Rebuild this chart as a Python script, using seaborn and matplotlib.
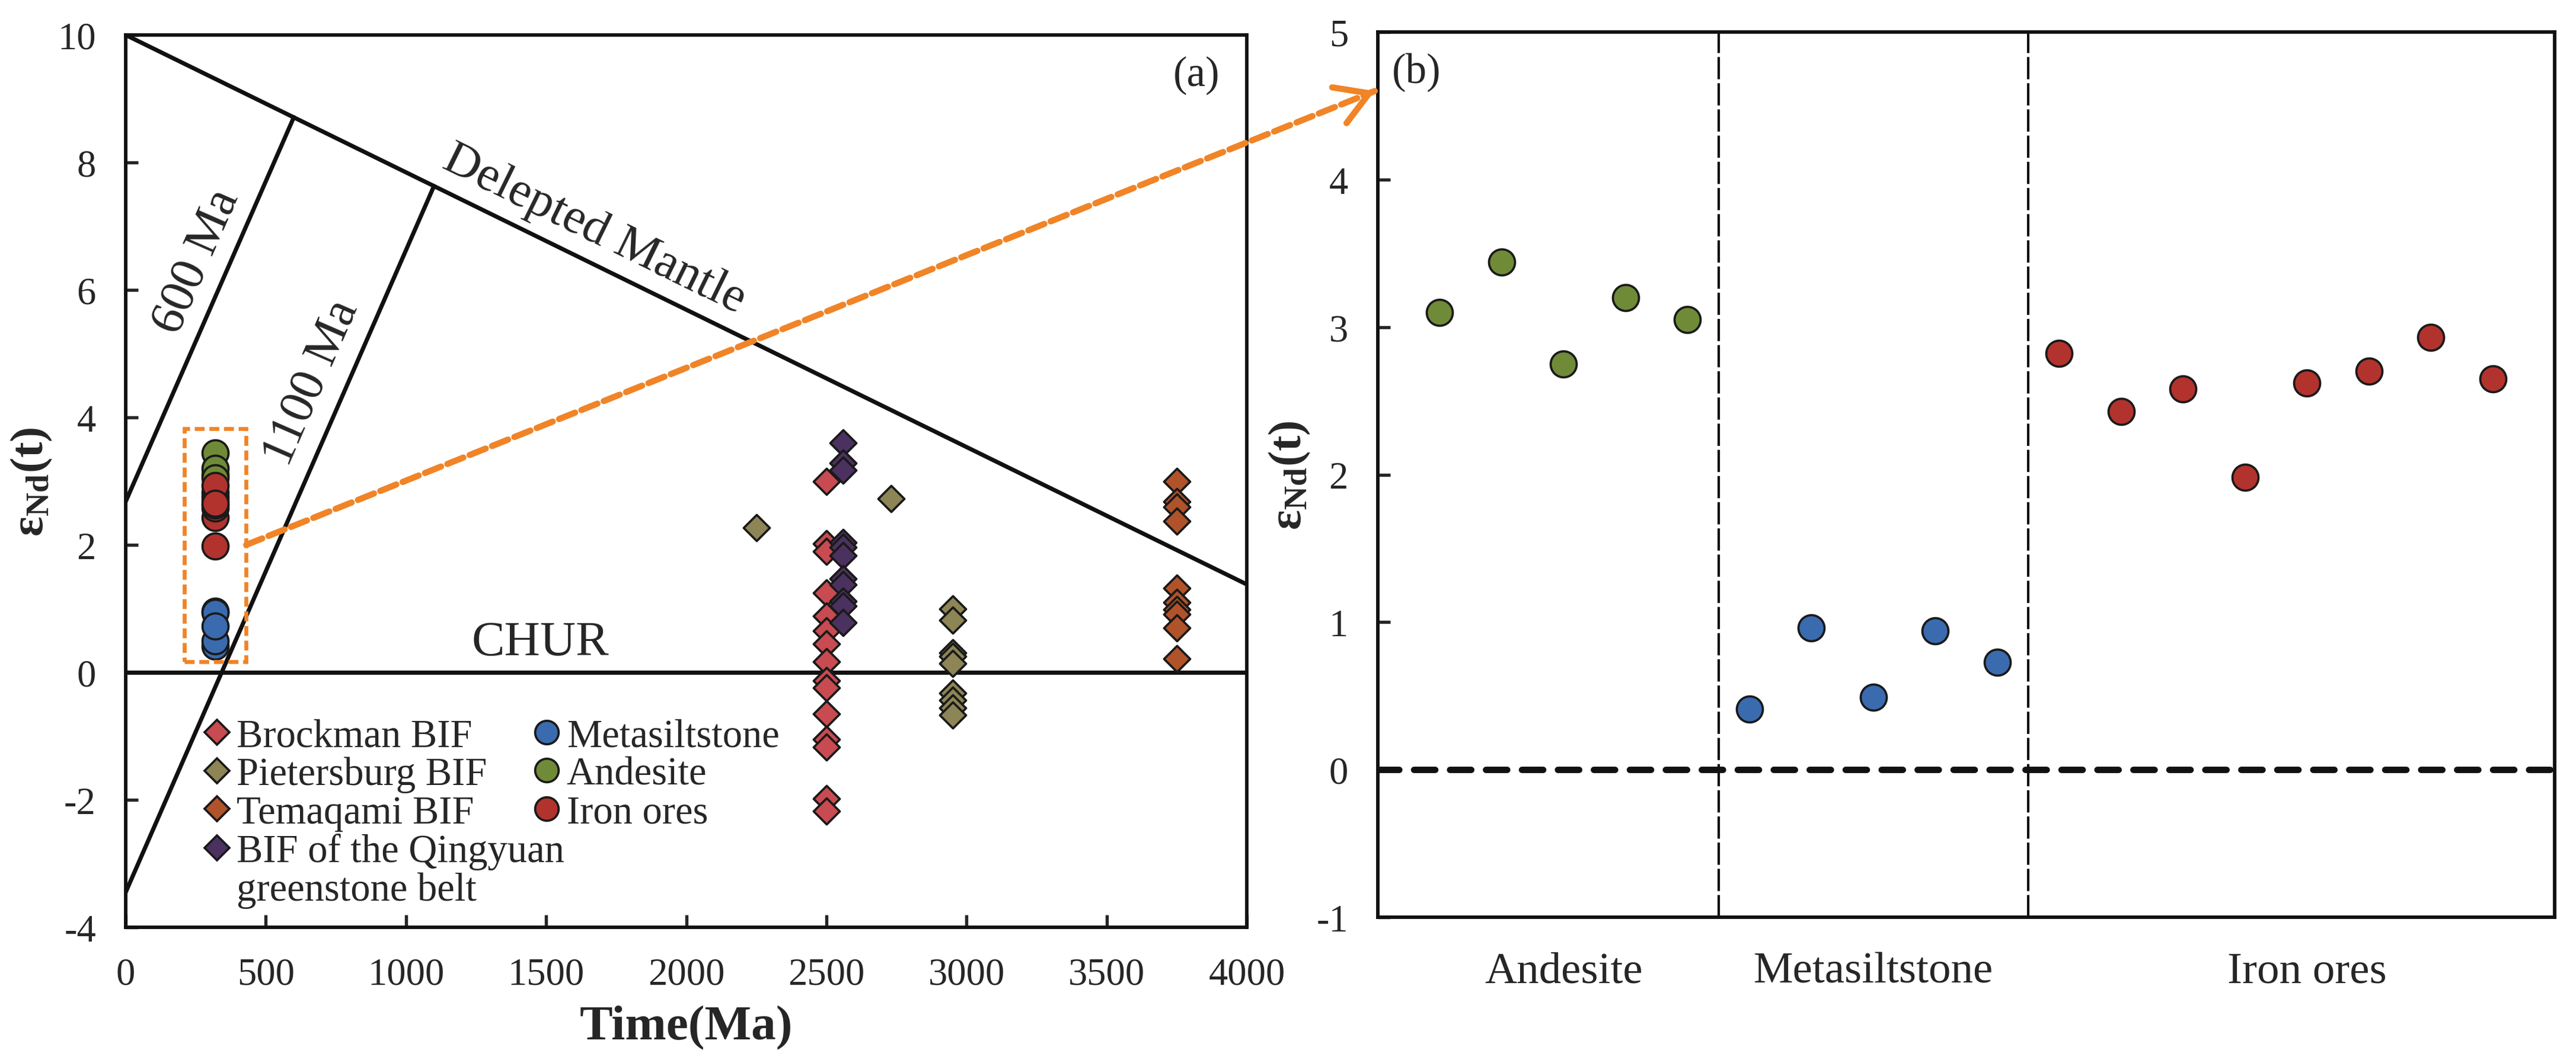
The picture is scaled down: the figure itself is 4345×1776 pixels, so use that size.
import numpy as np
import matplotlib
matplotlib.use('Agg')
import matplotlib.pyplot as plt
from matplotlib.lines import Line2D
from matplotlib.patches import Rectangle, ConnectionPatch
import seaborn as sns

# ---- panel (a): eNd(t) of BIFs vs age ----
brockman_age = [2500] * 15
brockman_eps = [3.0, 2.02, 1.9, 1.25, 0.88, 0.65, 0.45, 0.17, -0.13, -0.24,
                -0.65, -1.05, -1.17, -1.98, -2.18]
pietersburg_age = [2250, 2730, 2950, 2950, 2950, 2950, 2950, 2950, 2950, 2950, 2950]
pietersburg_eps = [2.27, 2.73, 1.0, 0.82, 0.31, 0.25, 0.14, -0.33, -0.44, -0.56, -0.67]
temagami_age = [3750] * 10
temagami_eps = [3.0, 2.68, 2.6, 2.37, 1.32, 1.1, 0.99, 0.91, 0.7, 0.21]
qingyuan_age = [2560] * 11
qingyuan_eps = [3.6, 3.28, 3.17, 2.04, 1.96, 1.83, 1.47, 1.38, 1.12, 1.04, 0.78]

# samples of this study (t = 320 Ma)
sample_age = 320
andesite_eps = [3.10, 3.44, 2.75, 3.20, 3.05]
metasilt_eps = [0.41, 0.96, 0.49, 0.94, 0.73]
iron_eps = [2.82, 2.43, 2.58, 1.98, 2.62, 2.70, 2.93, 2.65]

# evolution lines
dm_age, dm_eps = [0, 4000], [10.0, 1.38]
t600_age, t600_eps = [0, 600], [2.68, 8.71]
t1100_age, t1100_eps = [0, 1100], [-3.45, 7.63]
box_age, box_eps = [210, 430], [0.17, 3.82]

# ---- panel (b) ----
categories = ['Andesite', 'Metasiltstone', 'Iron ores']
cat_label_pos = [3, 8, 15]

C_BROCK = '#C84B51'
C_PIET = '#8D8555'
C_TEMA = '#B0532A'
C_QING = '#4B3160'
C_META = '#3A6BAF'
C_ANDE = '#6F8B37'
C_IRON = '#B2332D'
ORANGE = '#F08427'
EDGE = '#1a1a1a'

sns.set_style('ticks')
plt.rcParams['font.family'] = ['Liberation Serif', 'DejaVu Serif']
plt.rcParams['mathtext.fontset'] = 'custom'
plt.rcParams['mathtext.rm'] = 'Liberation Serif'
plt.rcParams['mathtext.bf'] = 'Liberation Serif:bold'
plt.rcParams['mathtext.it'] = 'Liberation Serif:italic'
plt.rcParams['axes.unicode_minus'] = False

W, H = 4345, 1777
fig = plt.figure(figsize=(W / 300, H / 300), dpi=300)
ax1 = fig.add_axes([212 / W, 1 - 1565 / H, 1891 / W, 1505 / H])
ax2 = fig.add_axes([2324 / W, 1 - 1548 / H, 1985 / W, 1493 / H])

for ax in (ax1, ax2):
    for sp in ax.spines.values():
        sp.set_linewidth(1.4)
        sp.set_color('#111111')
        sp.set_visible(True)

# ---------------- panel (a) ----------------
ax1.set_xlim(0, 4000)
ax1.set_ylim(-4, 10)
ax1.set_xticks(np.arange(0, 4001, 500))
ax1.set_yticks(np.arange(-4, 11, 2))
ax1.tick_params(direction='in', length=5, width=1.3, labelsize=15.5, pad=12,
                top=False, right=False)

line_kw = dict(color='#111111', lw=1.7, zorder=2)
ax1.plot(dm_age, dm_eps, **line_kw)
ax1.plot(t600_age, t600_eps, **line_kw)
ax1.plot(t1100_age, t1100_eps, **line_kw)
ax1.axhline(0, **line_kw)

diamond_kw = dict(marker='D', s=56, edgecolor=EDGE, linewidth=0.9, zorder=3, legend=False)
sns.scatterplot(x=brockman_age, y=brockman_eps, color=C_BROCK, ax=ax1, **diamond_kw)
sns.scatterplot(x=qingyuan_age, y=qingyuan_eps, color=C_QING, ax=ax1, **diamond_kw)
sns.scatterplot(x=pietersburg_age, y=pietersburg_eps, color=C_PIET, ax=ax1, **diamond_kw)
sns.scatterplot(x=temagami_age, y=temagami_eps, color=C_TEMA, ax=ax1, **diamond_kw)

circle_kw = dict(marker='o', s=111, edgecolor=EDGE, linewidth=0.9, zorder=3, legend=False)
sns.scatterplot(x=[sample_age] * len(metasilt_eps), y=metasilt_eps, color=C_META, ax=ax1, **circle_kw)
sns.scatterplot(x=[sample_age] * len(andesite_eps), y=andesite_eps, color=C_ANDE, ax=ax1, **circle_kw)
sns.scatterplot(x=[sample_age] * len(iron_eps), y=iron_eps, color=C_IRON, ax=ax1, **circle_kw)

ax1.add_patch(Rectangle((box_age[0], box_eps[0]), box_age[1] - box_age[0],
                        box_eps[1] - box_eps[0], fill=False, edgecolor=ORANGE,
                        lw=1.6, ls=(0, (2.5, 1.2)), zorder=4))

# line labels, rotated along the lines
def slope_deg(xs, ys):
    return np.degrees(np.arctan2(ys[1] - ys[0], xs[1] - xs[0]))

txt_kw = dict(fontsize=20, ha='center', va='center', transform_rotates_text=True,
              rotation_mode='anchor')
ax1.text(1671, 6.95, 'Delepted Mantle', rotation=slope_deg(dm_age, dm_eps), **txt_kw)
ax1.text(255, 6.45, '600 Ma', rotation=slope_deg(t600_age, t600_eps), **txt_kw)
ax1.text(665, 4.55, '1100 Ma', rotation=slope_deg(t1100_age, t1100_eps), **txt_kw)
ax1.text(1480, 0.46, 'CHUR', fontsize=20, ha='center', va='center')
ax1.text(3820, 9.37, '(a)', fontsize=17, ha='center', va='center')

ax1.set_xlabel('Time(Ma)', fontsize=20, fontweight='bold')
ax1.xaxis.label.set_va('center')
ax1.xaxis.set_label_coords(0.5, -0.112)
ax1.set_ylabel(r'$\mathbf{ε_{Nd}(t)}$', fontsize=19)
ax1.yaxis.set_label_coords(-0.064, 0.5)

leg_kw = dict(loc='upper left', bbox_transform=ax1.transData, frameon=False,
              borderpad=0, borderaxespad=0, handlelength=1.0, handletextpad=0.0,
              labelspacing=0.05, fontsize=16)

def handle(marker, color, ms):
    return Line2D([], [], marker=marker, ls='', markersize=ms, markerfacecolor=color,
                  markeredgecolor=EDGE, markeredgewidth=0.9)

# the second line of the Qingyuan entry is its own row without a marker
blank = Line2D([], [], ls='', marker='')
leg1 = ax1.legend(handles=[handle('D', C_BROCK, 7), handle('D', C_PIET, 7),
                           handle('D', C_TEMA, 7), handle('D', C_QING, 7), blank],
                  labels=['Brockman BIF', 'Pietersburg BIF', 'Temaqami BIF',
                          'BIF of the Qingyuan', 'greenstone belt'],
                  bbox_to_anchor=(255, -0.72), **leg_kw)
ax1.add_artist(leg1)
ax1.legend(handles=[handle('o', C_META, 9.5), handle('o', C_ANDE, 9.5), handle('o', C_IRON, 9.5)],
           labels=['Metasiltstone', 'Andesite', 'Iron ores'],
           bbox_to_anchor=(1432, -0.72), **leg_kw)

# ---------------- panel (b) ----------------
n_and, n_met, n_iron = len(andesite_eps), len(metasilt_eps), len(iron_eps)
x_all = np.arange(1, n_and + n_met + n_iron + 1)
x_and = x_all[:n_and]
x_met = x_all[n_and:n_and + n_met]
x_iron = x_all[n_and + n_met:]

ax2.set_xlim(0, len(x_all) + 1)
ax2.set_ylim(-1, 5)
ax2.set_yticks(np.arange(-1, 6, 1))
ax2.set_xticks(cat_label_pos)
ax2.set_xticklabels(categories)
ax2.tick_params(axis='y', direction='in', length=5, width=1.3, labelsize=15.5, pad=12,
                right=False)
ax2.tick_params(axis='x', length=0, labelsize=18, pad=14, top=False)

ax2.axhline(0, color='#111111', lw=2.6, ls=(0, (3.3, 2.3)), dash_capstyle='round', zorder=2)
for xv in (n_and + 0.5, n_and + n_met + 0.5):
    ax2.axvline(xv, color='#111111', lw=1.0, ls=(0, (9, 1.6)), zorder=2)

sns.scatterplot(x=x_and, y=andesite_eps, color=C_ANDE, ax=ax2, **circle_kw)
sns.scatterplot(x=x_met, y=metasilt_eps, color=C_META, ax=ax2, **circle_kw)
sns.scatterplot(x=x_iron, y=iron_eps, color=C_IRON, ax=ax2, **circle_kw)

ax2.text(0.62, 4.73, '(b)', fontsize=17, ha='center', va='center')
ax2.set_ylabel(r'$\mathbf{ε_{Nd}(t)}$', fontsize=19)
ax2.yaxis.set_label_coords(-0.056, 0.5)

# ---------------- dashed arrow linking the panels ----------------
start = (box_age[1], 2.0)
tip = (-0.05, 4.6)
shaft = ConnectionPatch(xyA=start, coordsA=ax1.transData, xyB=tip, coordsB=ax2.transData,
                        arrowstyle='-', color=ORANGE, lw=2.5, ls=(0, (2.8, 1.1)), zorder=5)
fig.add_artist(shaft)
pa = ax1.transData.transform(start)
pb = ax2.transData.transform(tip)
u = (pb - pa) / np.hypot(*(pb - pa))
back = ax2.transData.inverted().transform(pb - u * 6)
head = ConnectionPatch(xyA=tuple(back), coordsA=ax2.transData, xyB=tip, coordsB=ax2.transData,
                       arrowstyle='->,head_length=0.5,head_width=0.3', mutation_scale=26,
                       color=ORANGE, lw=2.5, zorder=5)
fig.add_artist(head)

fig.savefig('out.png', dpi=300, facecolor='white')
